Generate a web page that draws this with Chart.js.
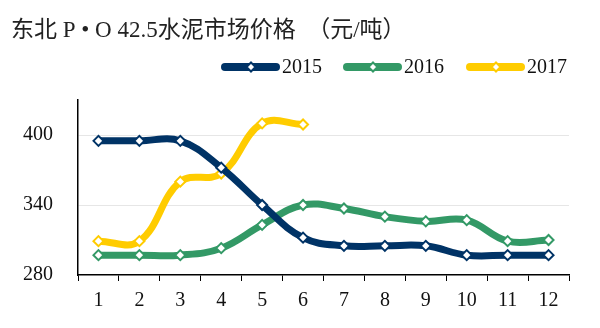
<!DOCTYPE html>
<html>
<head>
<meta charset="utf-8">
<script src="https://cdn.jsdelivr.net/npm/chart.js@4.4.1/dist/chart.umd.min.js"></script>
<style>
  html, body { margin: 0; padding: 0; background: #fff; }
  #wrap { position: relative; width: 600px; height: 328px; }
</style>
</head>
<body>
<div id="wrap"><canvas id="priceChart" width="600" height="328"></canvas></div>
<script>
const months = ['1', '2', '3', '4', '5', '6', '7', '8', '9', '10', '11', '12'];
const price2015 = [395, 395, 395, 372, 340, 312, 305, 305, 305, 297, 297, 297];
const price2016 = [297, 297, 297, 303, 323, 340, 337, 330, 326, 327, 309, 310];
const price2017 = [309, 309, 360, 367, 410, 409];
const yTicks = [280, 340, 400];

const titleText = '东北 P • O 42.5水泥市场价格  （元/吨）';
const serif = '"Liberation Serif", "Times New Roman", "Noto Sans CJK SC", serif';

const series = [
  { label: '2015', data: price2015, color: '#003366' },
  { label: '2016', data: price2016, color: '#339966' },
  { label: '2017', data: price2017, color: '#FFCC00' }
];

// small white diamond used on the lines and in the legend
function diamond(ctx, x, y, r, stroke) {
  ctx.save();
  ctx.beginPath();
  ctx.moveTo(x, y - r);
  ctx.lineTo(x + r, y);
  ctx.lineTo(x, y + r);
  ctx.lineTo(x - r, y);
  ctx.closePath();
  ctx.fillStyle = '#fff';
  ctx.fill();
  ctx.lineWidth = 2;
  ctx.strokeStyle = stroke;
  ctx.stroke();
  ctx.restore();
}

// title + legend drawn in the top band
const headerPlugin = {
  id: 'header',
  afterDraw(chart) {
    const ctx = chart.ctx;
    ctx.save();
    ctx.fillStyle = '#222';
    ctx.font = '23px ' + serif;
    ctx.textBaseline = 'alphabetic';
    ctx.textAlign = 'left';
    ctx.fillText(titleText, 11, 37);

    const legendX = [221, 343, 466];
    const ly = 67;
    chart.data.datasets.forEach((ds, i) => {
      const x0 = legendX[i];
      ctx.beginPath();
      ctx.moveTo(x0 + 4, ly);
      ctx.lineTo(x0 + 55, ly);
      ctx.lineWidth = 8;
      ctx.lineCap = 'round';
      ctx.strokeStyle = ds.borderColor;
      ctx.stroke();
      diamond(ctx, x0 + 30, ly, 4.5, ds.borderColor);
      ctx.fillStyle = '#111';
      ctx.font = '20px ' + serif;
      ctx.textBaseline = 'middle';
      ctx.fillText(ds.label, x0 + 61, ly + 1);
    });
    ctx.restore();
  }
};

new Chart(document.getElementById('priceChart').getContext('2d'), {
  type: 'line',
  data: {
    labels: months,
    datasets: series.map(s => ({
      label: s.label,
      data: s.data,
      borderColor: s.color,
      backgroundColor: '#fff',
      borderWidth: 7,
      tension: 0.4,
      fill: false,
      pointStyle: 'rectRot',
      pointRadius: 5,
      pointBorderWidth: 2,
      pointBorderColor: s.color,
      pointBackgroundColor: '#fff'
    }))
  },
  options: {
    responsive: false,
    animation: false,
    devicePixelRatio: 1,
    layout: { padding: { top: 100, right: 31, left: 0, bottom: 0 } },
    plugins: {
      legend: { display: false },
      title: { display: false },
      tooltip: { enabled: false }
    },
    scales: {
      x: {
        offset: true,
        grid: {
          offset: true,
          drawOnChartArea: false,
          drawTicks: true,
          tickLength: 6,
          color: '#000'
        },
        border: { color: '#000', width: 1.5 },
        ticks: {
          color: '#111',
          padding: 8,
          maxRotation: 0,
          font: { family: serif, size: 20 }
        },
        afterFit: s => { s.height = 53; }
      },
      y: {
        min: 280,
        max: 430,
        afterBuildTicks: s => { s.ticks = yTicks.map(v => ({ value: v })); },
        afterFit: s => { s.width = 78; },
        grid: {
          drawTicks: false,
          color: c => (c.tick && c.tick.value === 280 ? 'rgba(0,0,0,0)' : '#e6e6e6'),
          lineWidth: 1
        },
        border: { color: '#000', width: 1.5 },
        ticks: {
          color: '#111',
          padding: 25,
          font: { family: serif, size: 20 }
        }
      }
    }
  },
  plugins: [headerPlugin]
});
</script>
</body>
</html>
